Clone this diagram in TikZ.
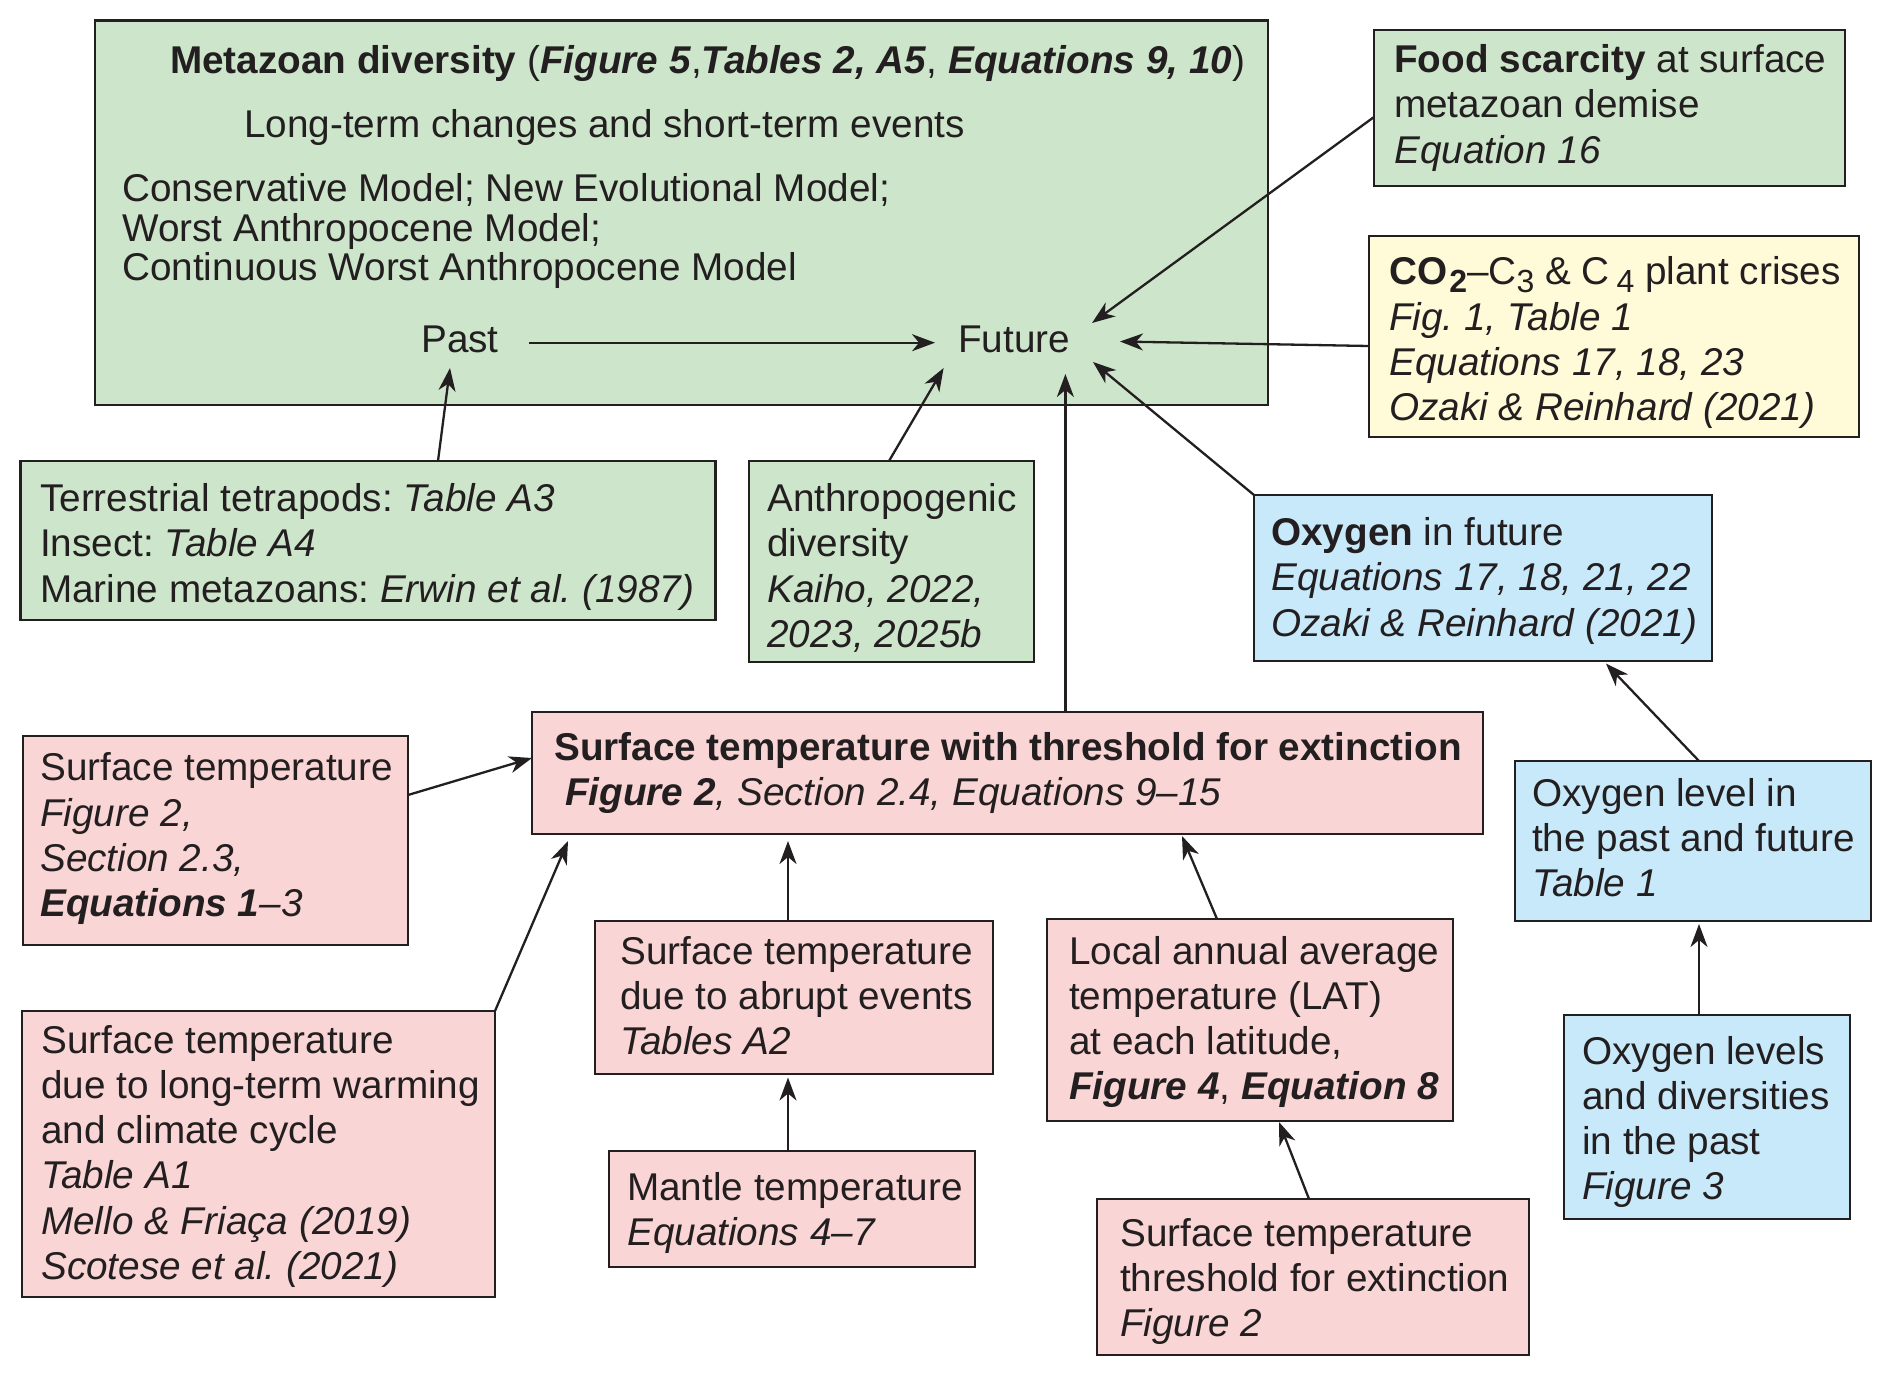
\documentclass[tikz,border=0pt]{standalone}
\usepackage{fontspec}
\setmainfont{Liberation Sans}
\usetikzlibrary{arrows.meta,calc}
\frenchspacing
\definecolor{gr}{RGB}{205,230,203}
\definecolor{pk}{RGB}{250,213,213}
\definecolor{bl}{RGB}{200,233,250}
\definecolor{yl}{RGB}{255,250,216}
\definecolor{ln}{RGB}{35,31,32}
\newcommand\bfit[1]{\textbf{\textit{#1}}}
\newcommand\sbs[1]{\raisebox{-8pt}{\fontsize{32}{32}\selectfont #1}}
\newcommand\tl[1]{\begin{tabular}[t]{@{}l@{}}#1\end{tabular}}
\tikzset{
 box/.style={draw=ln, line width=2.2pt, rectangle, inner sep=0pt, outer sep=0pt, anchor=north west},
 txt/.style={inner sep=0pt, anchor=base west, font=\fontsize{38.7}{45.3}\selectfont\frenchspacing, text=ln},
 arr/.style={draw=ln, line width=2.3pt, -{Stealth[length=23pt,width=17pt,inset=7pt]}},
}
\begin{document}
\begin{tikzpicture}[x=1pt,y=-1pt]
\useasboundingbox[fill=white] (0,0) rectangle (1892,1376);
% boxes
\node[box, fill=gr, minimum width=1173pt, minimum height=384.5pt] (main) at (95,20.5) {};
\node[box, fill=gr, minimum width=471pt, minimum height=156pt] (food) at (1374,30) {};
\node[box, fill=yl, minimum width=490pt, minimum height=201pt] (co2) at (1369,236) {};
\node[box, fill=gr, minimum width=695pt, minimum height=159pt] (terr) at (20.5,461) {};
\node[box, fill=gr, minimum width=285pt, minimum height=201pt] (anth) at (749,461) {};
\node[box, fill=bl, minimum width=458pt, minimum height=166pt] (oxf) at (1254,495) {};
\node[box, fill=pk, minimum width=951pt, minimum height=122pt] (stt) at (532,712) {};
\node[box, fill=pk, minimum width=385pt, minimum height=209pt] (stl) at (23,736) {};
\node[box, fill=bl, minimum width=356pt, minimum height=160pt] (oxl) at (1515,761) {};
\node[box, fill=pk, minimum width=398pt, minimum height=153pt] (abr) at (595,921) {};
\node[box, fill=pk, minimum width=406pt, minimum height=202pt] (loc) at (1047,919) {};
\node[box, fill=pk, minimum width=473pt, minimum height=286pt] (ltw) at (22,1011) {};
\node[box, fill=pk, minimum width=366pt, minimum height=116pt] (man) at (609,1151) {};
\node[box, fill=bl, minimum width=286pt, minimum height=204pt] (oxd) at (1564,1015) {};
\node[box, fill=pk, minimum width=432pt, minimum height=156pt] (thr) at (1097,1199) {};
% texts
\node[txt] (title) at (170,73.6) {\textbf{Metazoan diversity} (\bfit{Figure 5},\bfit{Tables 2, A5}, \bfit{Equations 9, 10})};
\node[txt] (lte) at (244,137.5) {Long-term changes and short-term events};
\node[txt, font=\fontsize{38.7}{38.6}\selectfont] (models) at (122,201.5) {\tl{Conservative Model; New Evolutional Model;\\Worst Anthropocene Model;\\Continuous Worst Anthropocene Model}};
\node[txt] (past) at (421,352) {Past};
\node[txt] (future) at (958,352) {Future};
\node[txt] (tfood) at (1394,72.4) {\tl{\textbf{Food scarcity} at surface\\metazoan demise\\\textit{Equation 16}}};
\node[txt] (tco2) at (1389,284.8) {\tl{\textbf{CO\kern2pt\sbs{2}}–C\sbs{3} \& C\kern7pt\sbs{4} plant crises\\\textit{Fig. 1, Table 1}\\\textit{Equations 17, 18, 23}\\\textit{Ozaki \& Reinhard (2021)}}};
\node[txt] (tterr) at (40,511.6) {\tl{Terrestrial tetrapods: \textit{Table A3}\\Insect: \textit{Table A4}\\Marine metazoans: \textit{Erwin et al. (1987)}}};
\node[txt] (tanth) at (767,511.6) {\tl{Anthropogenic\\diversity\\\textit{Kaiho, 2022,}\\\textit{2023, 2025b}}};
\node[txt] (toxf) at (1271,545.4) {\tl{\textbf{Oxygen} in future\\\textit{Equations 17, 18, 21, 22}\\\textit{Ozaki \& Reinhard (2021)}}};
\node[txt] (tstt) at (554,760) {\tl{\textbf{Surface temperature with threshold for extinction}\\\hspace*{11pt}\bfit{Figure 2}\textit{, Section 2.4, Equations 9–15}}};
\node[txt] (tstl) at (40,780.7) {\tl{Surface temperature\\\textit{Figure 2,}\\\textit{Section 2.3,}\\\bfit{Equations 1}\textit{–3}}};
\node[txt] (toxl) at (1532,806) {\tl{Oxygen level in\\the past and future\\\textit{Table 1}}};
\node[txt] (tabr) at (620,964) {\tl{Surface temperature\\due to abrupt events\\\textit{Tables A2}}};
\node[txt] (tloc) at (1069,964) {\tl{Local annual average\\temperature (LAT)\\at each latitude,\\\bfit{Figure 4}, \bfit{Equation 8}}};
\node[txt] (tltw) at (41,1053) {\tl{Surface temperature\\due to long-term warming\\and climate cycle\\\textit{Table A1}\\\textit{Mello \& Friaça (2019)}\\\textit{Scotese et al. (2021)}}};
\node[txt] (tman) at (627,1200.6) {\tl{Mantle temperature\\\textit{Equations 4–7}}};
\node[txt] (toxd) at (1582,1064) {\tl{Oxygen levels\\and diversities\\in the past\\\textit{Figure 3}}};
\node[txt] (tthr) at (1120,1246) {\tl{Surface temperature\\threshold for extinction\\\textit{Figure 2}}};
% arrow tips near Past / Future
\coordinate (pastB) at (450,368);
\coordinate (futA) at (1092,323);
\coordinate (futC) at (1120,341.5);
\coordinate (futL) at (943.6,368);
\coordinate (futS) at (1065.4,374);
\coordinate (futO) at (1093,362);
% connectors
\draw[arr] ([xshift=30pt]past.east |- 0,342.7) -- ([xshift=-23pt]future.west |- 0,342.7);
\draw[arr] ([yshift=-9pt]food.west) -- (futA);
\draw[arr] ([yshift=-9.5pt]co2.west) -- (futC);
\draw[arr] ([xshift=417.5pt]terr.north west) -- (pastB);
\draw[arr] ([xshift=140pt]anth.north west) -- (futL);
\draw[arr] ([xshift=533.4pt]stt.north west) -- (futS);
\draw[arr] (oxf.north west) -- (futO);
\draw[arr] ([yshift=-59pt]stl.north east) -- ([yshift=-46pt]stt.north west);
\draw[arr] (ltw.north east) -- ([xshift=36pt,yshift=-7pt]stt.south west);
\draw[arr] ([xshift=193pt]abr.north west) -- ([xshift=256pt,yshift=-7pt]stt.south west);
\draw[arr] ([xshift=170pt]loc.north west) -- ([xshift=650pt,yshift=-2pt]stt.south west);
\draw[arr] ([xshift=179pt]man.north west) -- ([xshift=193pt,yshift=-3.5pt]abr.south west);
\draw[arr] ([xshift=212pt]thr.north west) -- ([xshift=232pt,yshift=-1pt]loc.south west);
\draw[arr] ([xshift=184pt]oxl.north west) -- ([xshift=352pt,yshift=-2.6pt]oxf.south west);
\draw[arr] ([xshift=135pt]oxd.north west) -- ([xshift=184pt,yshift=-3pt]oxl.south west);
\end{tikzpicture}
\end{document}
